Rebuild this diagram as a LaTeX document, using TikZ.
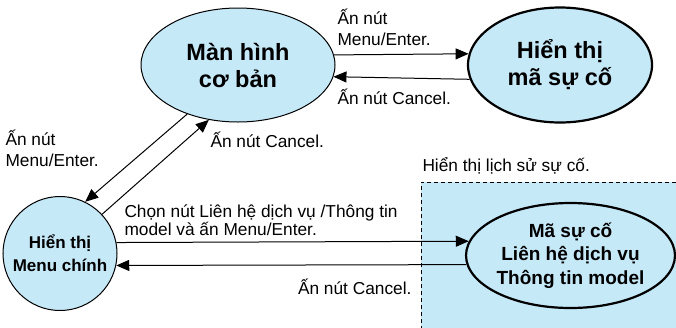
\documentclass[tikz,border=0pt]{standalone}
\usepackage{fontspec}
\setmainfont{Liberation Sans}
\usetikzlibrary{shapes.geometric,arrows.meta}
\definecolor{stateblue}{RGB}{198,233,248}

\begin{document}
\begin{tikzpicture}[
        x=1pt, y=-1pt,
        >={Triangle[length=13pt,width=11pt]},
        state/.style={draw=black, fill=stateblue, ellipse, align=center,
            font=\fontsize{23.5}{27}\selectfont\bfseries, inner sep=0pt},
        label/.style={align=left, anchor=base west, inner sep=0pt,
            font=\fontsize{17.3}{20.5}\selectfont},
        line width=1pt]
        \useasboundingbox (0,0) rectangle (676,327);
        % history box
        \fill[stateblue] (421,182) rectangle (680,330);
        \draw[dashed, line width=0.8pt, dash pattern=on 4pt off 3pt] (421,330) |- (680,182);

        % NODES
        % basic screen
        \node[state, minimum width=194pt, minimum height=114pt] (Basic) at (238,65) {Màn hình\\cơ bản};
        % error code screen
        \node[state, line width=2.2pt, minimum width=184pt, minimum height=115pt] (Code) at (560,65) {Hiển thị\\mã sự cố};
        % main menu
        \node[state, circle, minimum size=114pt, font=\fontsize{17}{23}\selectfont\bfseries] (Menu) at (60,253.5) {Hiển thị\\Menu chính};
        % history
        \node[state, line width=2.2pt, minimum width=205pt, minimum height=105pt,
            font=\fontsize{19}{23.5}\selectfont\bfseries] (Hist) at (570.5,255.5) {Mã sự cố\\Liên hệ dịch vụ\\Thông tin model};
        % labels (anchored on the last line)
        \node[label] (LbA) at (337,45) {Ấn nút\\Menu/Enter.};
        \node[label] (LbB) at (337,104) {Ấn nút Cancel.};
        \node[label] (LbC) at (5,166) {Ấn nút\\Menu/Enter.};
        \node[label] (LbD) at (210,147) {Ấn nút Cancel.};
        \node[label, font=\fontsize{17.3}{18}\selectfont] (LbE) at (124,235) {Chọn nút Liên hệ dịch vụ /Thông tin\\model và ấn Menu/Enter.};
        \node[label, anchor=base east] (LbF) at (412,294) {Ấn nút Cancel.};
        \node[label] (LbG) at (422,171) {Hiển thị lịch sử sự cố.};

        % ARROWS
        \draw[->] (Basic.6) -- (Code.173.7);
        \draw[->] (Code.-171.75) -- (Basic.-7.8);
        \draw[->] (Basic.224.5) -- (Menu.64.7);
        \draw[->] (Menu.43.6) -- (Basic.242.6);
        \draw[->] (Menu.11.1) -- (Hist.172.5);
        \draw[->] (Hist.185.7) -- (Menu.-12.2);
\end{tikzpicture}
\end{document}
